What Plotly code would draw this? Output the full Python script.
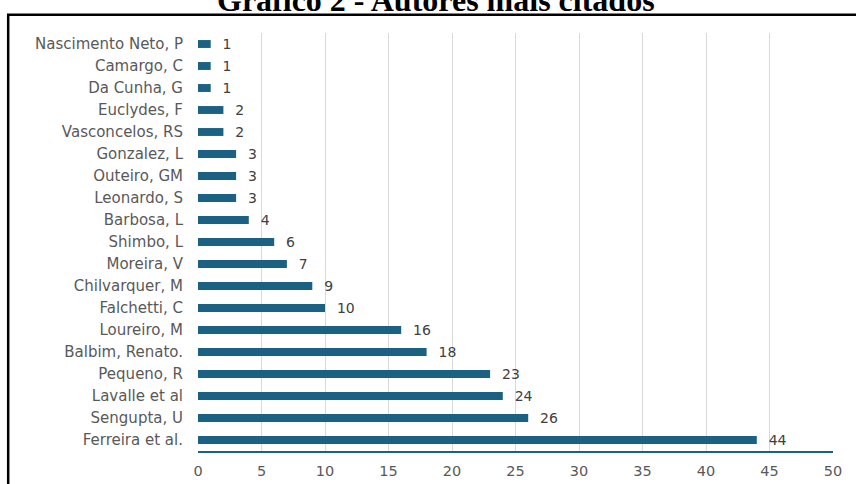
import plotly.graph_objects as go

authors = ["Nascimento Neto, P", "Camargo, C", "Da Cunha, G", "Euclydes, F", "Vasconcelos, RS",
           "Gonzalez, L", "Outeiro, GM", "Leonardo, S", "Barbosa, L", "Shimbo, L", "Moreira, V",
           "Chilvarquer, M", "Falchetti, C", "Loureiro, M", "Balbim, Renato.", "Pequeno, R",
           "Lavalle et al", "Sengupta, U", "Ferreira et al."]
citations = [1, 1, 1, 2, 2, 3, 3, 3, 4, 6, 7, 9, 10, 16, 18, 23, 24, 26, 44]
x_ticks = [0, 5, 10, 15, 20, 25, 30, 35, 40, 45, 50]
title = "Gráfico 2 - Autores mais citados"

bar_color = "#1B6183"
label_font = "DejaVu Sans"

fig = go.Figure(go.Bar(
    x=citations, y=authors, orientation="h",
    marker=dict(color=bar_color, line=dict(width=0)),
    width=0.36,
    text=citations, texttemplate="  %{x}", textposition="outside",
    constraintext="none",
    textfont=dict(family=label_font, size=14, color="#404040"),
    cliponaxis=False,
))

fig.update_layout(
    width=856, height=484,
    margin=dict(l=198, r=23, t=33, b=33, autoexpand=False),
    paper_bgcolor="white", plot_bgcolor="white",
    showlegend=False,
    xaxis=dict(range=[0, 50], tickvals=x_ticks, showgrid=True, gridcolor="#D9D9D9",
               gridwidth=1, zeroline=False, showline=True, linecolor=bar_color, linewidth=1.5,
               tickfont=dict(family=label_font, size=14.5, color="#595959"), ticks="",
               ticklabelstandoff=6, fixedrange=True),
    yaxis=dict(autorange="reversed", showgrid=False, zeroline=False, showline=False,
               tickfont=dict(family=label_font, size=15, color="#595959"), ticks="",
               ticklabelstandoff=14, fixedrange=True),
    annotations=[dict(text="<b>" + title + "</b>", x=(436 - 198) / 635, xref="paper",
                      y=1.031, yref="paper",
                      xanchor="center", yanchor="bottom", showarrow=False,
                      font=dict(family="Liberation Serif", size=32, color="black"))],
    shapes=[dict(type="rect", xref="paper", yref="paper", x0=-0.2989, x1=1.2, y0=-0.3, y1=1.0438,
                 line=dict(color="black", width=2.5), fillcolor="rgba(0,0,0,0)", layer="above")],
)

fig.write_html("out.html", config={"displayModeBar": False},
               post_script="document.body.style.margin='0';document.body.style.overflow='hidden';")
